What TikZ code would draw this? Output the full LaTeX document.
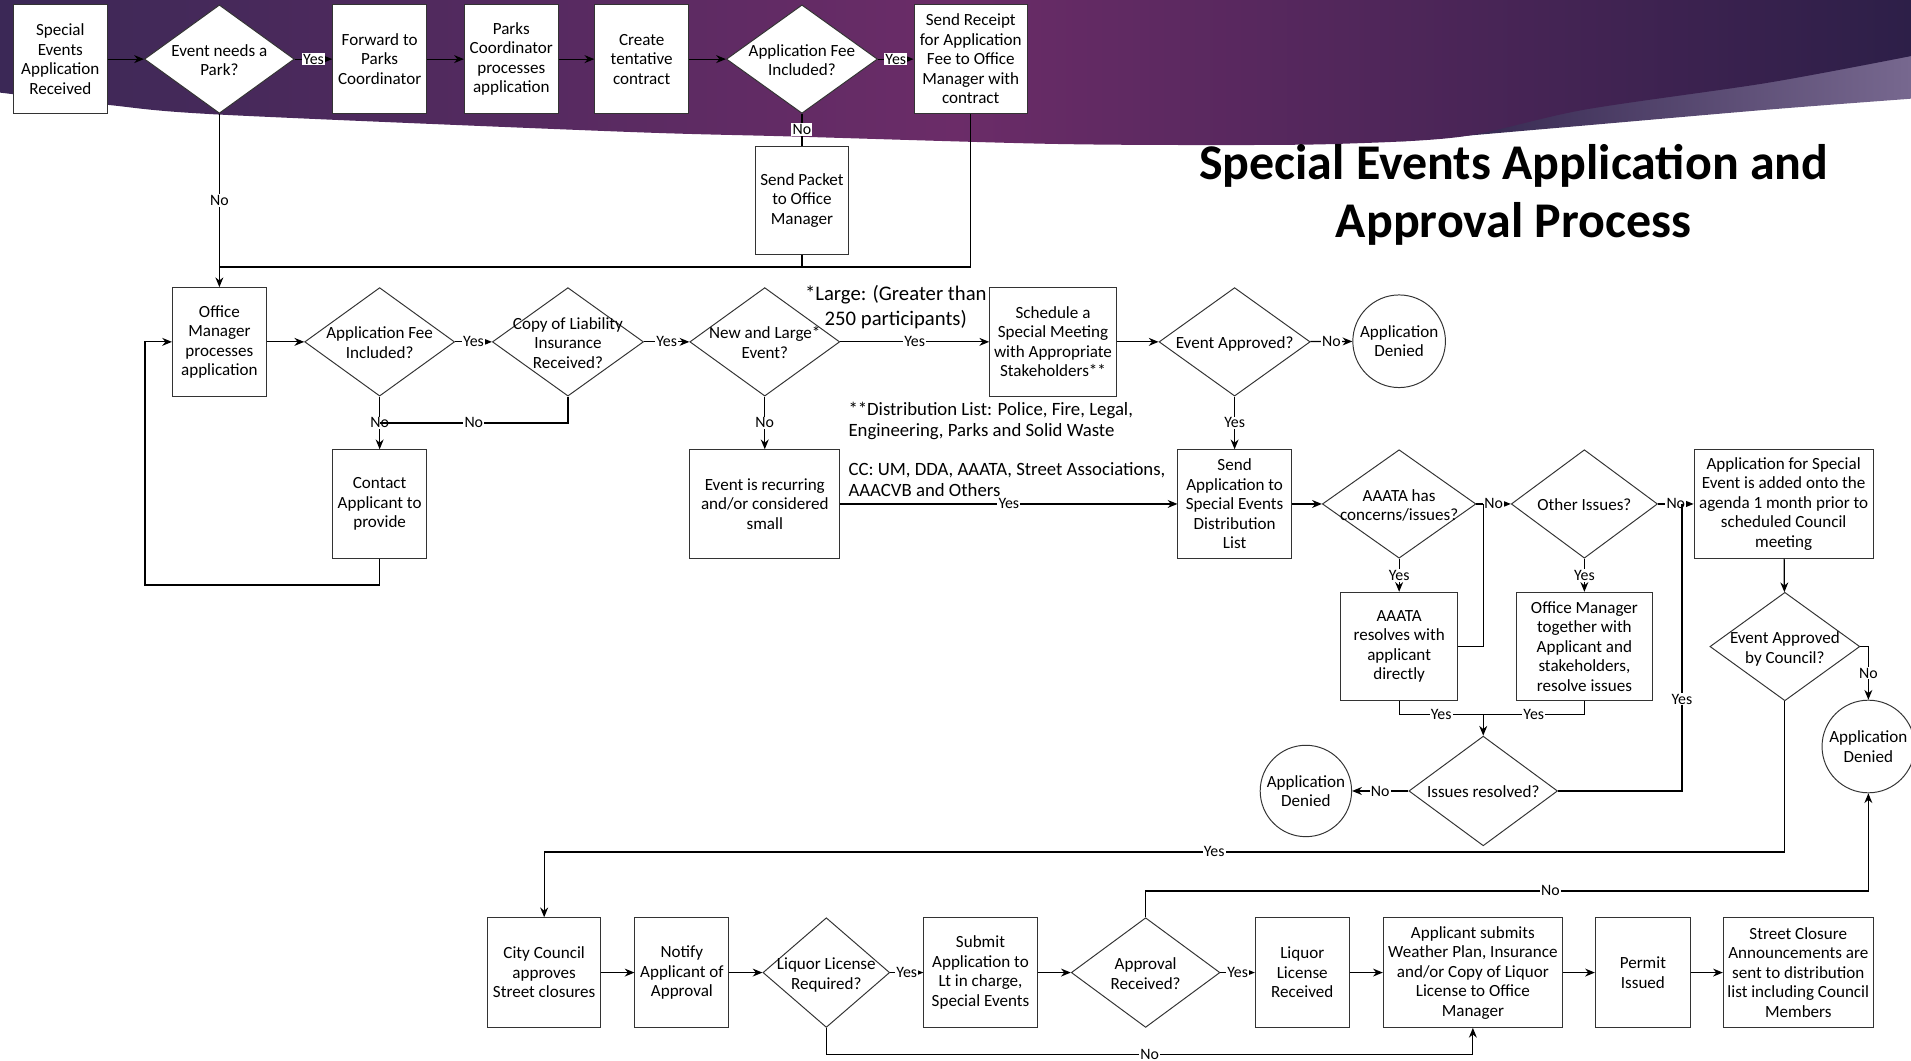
\documentclass[tikz,border=0pt]{standalone}
\usepackage{fontspec}
\setmainfont{Carlito}
\usetikzlibrary{arrows.meta,shapes.geometric}
\definecolor{plumdark}{HTML}{3B2856}
\definecolor{plummid}{HTML}{6B2C68}
\definecolor{plumnight}{HTML}{2D1F48}
\definecolor{plumhaze}{HTML}{77688F}
\newcommand{\qtext}[1]{\smash{\makebox[0pt]{\raisebox{-6pt}{\begin{tabular}{@{}c@{}}#1\end{tabular}}}}}
\tikzset{
  stepbox/.style={draw=black!80, line width=0.8pt, rectangle, minimum width=77pt, minimum height=89pt, inner sep=1pt, align=center, fill=white, font=\fontsize{14}{16}\selectfont},
  choice/.style={draw=black!80, line width=0.8pt, diamond, minimum width=123pt, minimum height=89pt, inner sep=0pt, fill=white, font=\fontsize{14}{16}\selectfont},
  denied/.style={draw=black!80, line width=0.8pt, circle, minimum size=76pt, inner sep=0pt, align=center, fill=white, font=\fontsize{14}{16}\selectfont},
  signal/.style={-{Stealth[length=8pt,width=6.5pt]}, line width=1pt, draw=black},
  link/.style={line width=1pt, draw=black},
  answer/.style={fill=white, inner sep=1pt, font=\fontsize{13}{15}\selectfont},
  remark/.style={align=left, anchor=west, inner sep=0pt, font=\fontsize{15.4}{17}\selectfont}
}

\begin{document}
\begin{tikzpicture}[x=1pt, y=-1pt]
  \useasboundingbox (0,0) rectangle (1568,870);
  % banner
  \shade[left color=plumnight, right color=plumhaze] plot[smooth] coordinates {(1150,116) (1300,86) (1450,62) (1568,38)} -- (1568,81) -- plot[smooth] coordinates {(1568,81) (1450,90) (1300,103) (1150,116)} -- cycle;
  \shade[left color=plumdark, right color=plumnight, middle color=plummid] (0,0) -- (1568,0) -- plot[smooth, tension=0.5] coordinates {(1568,46) (1450,68) (1300,90) (1200,112) (1100,118) (1000,119) (860,118) (650,112) (509,108) (180,94) (88,86) (0,76)} -- cycle;

  \node[font=\fontsize{41}{48}\selectfont\bfseries, align=center] (title) at (1242,160) {Special Events Application and\\Approval Process};

  % top row
  \node[stepbox] (rec) at (49.5,48.5) {Special\\Events\\Application\\Received};
  \node[choice] (park) at (180,48.5) {\qtext{Event needs a\\Park?}};
  \node[stepbox] (fwd) at (311.5,48.5) {Forward to\\Parks\\Coordinator};
  \node[stepbox] (pcp) at (419.5,48.5) {Parks\\Coordinator\\processes\\application};
  \node[stepbox] (tent) at (526.5,48.5) {Create\\tentative\\contract};
  \node[choice, minimum width=124pt] (fee1) at (658,48.5) {\qtext{Application Fee\\Included?}};
  \node[stepbox, minimum width=93pt] (receipt) at (796.5,48.5) {Send Receipt\\for Application\\Fee to Office\\Manager with\\contract};
  \node[stepbox] (packet) at (658,164.5) {Send Packet\\to Office\\Manager};

  % second row
  \node[stepbox] (om) at (180,280.5) {Office\\Manager\\processes\\application};
  \node[choice] (fee2) at (311.5,280.5) {\qtext{Application Fee\\Included?}};
  \node[choice, minimum width=124pt] (ins) at (466,280.5) {\qtext{Copy of Liability\\Insurance\\Received?}};
  \node[choice] (large) at (627.5,280.5) {\qtext{New and Large*\\Event?}};
  \node[stepbox, minimum width=104pt] (sched) at (864,280.5) {Schedule a\\Special Meeting\\with Appropriate\\Stakeholders**};
  \node[choice, minimum width=124pt] (appr) at (1013,280.5) {\qtext{Event Approved?}};
  \node[denied] (den1) at (1148,280) {Application\\Denied};
  \node[font=\fontsize{17}{20}\selectfont, align=center, inner sep=0pt] (largenote) at (735,252) {*Large: (Greater than\\250 participants)};
  \node[remark] (distnote) at (696,345.5) {**Distribution List: Police, Fire, Legal,\\Engineering, Parks and Solid Waste};
  \node[remark] (ccnote) at (696,393.5) {CC: UM, DDA, AAATA, Street Associations,\\AAACVB and Others};

  % third row
  \node[stepbox] (contact) at (311.5,413.5) {Contact\\Applicant to\\provide};
  \node[stepbox, minimum width=123pt] (small) at (627.5,413.5) {Event is recurring\\and/or considered\\small};
  \node[stepbox, minimum width=93pt] (dist) at (1013,413.5) {Send\\Application to\\Special Events\\Distribution\\List};
  \node[choice, minimum width=126pt] (aaata) at (1148,413.5) {\qtext{AAATA has\\concerns/issues?}};
  \node[choice, minimum width=120pt] (other) at (1300,413.5) {\qtext{Other Issues?}};
  \node[stepbox, minimum width=147pt] (agenda) at (1463.5,413.5) {Application for Special\\Event is added onto the\\agenda 1 month prior to\\scheduled Council\\meeting};
  \node[stepbox, minimum width=96pt] (aares) at (1148,530.5) {AAATA\\resolves with\\applicant\\directly};
  \node[stepbox, minimum width=112pt] (omres) at (1300,530.5) {Office Manager\\together with\\Applicant and\\stakeholders,\\resolve issues};
  \node[choice] (council) at (1464.5,530.5) {\qtext{Event Approved\\by Council?}};
  \node[choice, minimum width=122pt, minimum height=90pt] (resolved) at (1217,649) {\qtext{Issues resolved?}};
  \node[denied, minimum size=75pt] (den2) at (1071.5,649) {Application\\Denied};
  \node[denied] (den3) at (1533,612.5) {Application\\Denied};

  % bottom row
  \node[stepbox, minimum width=93pt, minimum height=90pt] (city) at (446.5,798) {City Council\\approves\\Street closures};
  \node[stepbox, minimum height=90pt] (notify) at (559.5,798) {Notify\\Applicant of\\Approval};
  \node[choice, minimum width=104pt, minimum height=90pt] (liquor) at (678,798) {\qtext{Liquor License\\Required?}};
  \node[stepbox, minimum width=93pt, minimum height=90pt] (submit) at (804.5,798) {Submit\\Application to\\Lt in charge,\\Special Events};
  \node[choice, minimum width=122pt, minimum height=90pt] (appr2) at (940,798) {\qtext{Approval\\Received?}};
  \node[stepbox, minimum height=90pt] (lrec) at (1068.5,798) {Liquor\\License\\Received};
  \node[stepbox, minimum width=147pt, minimum height=90pt] (subm) at (1208.5,798) {Applicant submits\\Weather Plan, Insurance\\and/or Copy of Liquor\\License to Office\\Manager};
  \node[stepbox, minimum width=78pt, minimum height=90pt] (permit) at (1348,798) {Permit\\Issued};
  \node[stepbox, minimum width=123pt, minimum height=90pt] (street) at (1475.5,798) {Street Closure\\Announcements are\\sent to distribution\\list including Council\\Members};

  \coordinate (omin) at (180,219);
  \coordinate (feeno) at (311.5,347);
  \coordinate (loop) at (119,480);
  \coordinate (merge) at (1217,586);
  \coordinate (recheck) at (1380,413.5);
  \coordinate (yesback) at (446.5,699);
  \coordinate (noback) at (1533,731);
  \coordinate (nolicense) at (1208.5,865);

  % top connectors
  \draw[signal] (rec) -- (park);
  \draw[signal] (park) -- node[answer] {Yes} (fwd);
  \draw[signal] (fwd) -- (pcp);
  \draw[signal] (pcp) -- (tent);
  \draw[signal] (tent) -- (fee1);
  \draw[signal] (fee1) -- node[answer] {Yes} (receipt);
  \draw[link] (fee1) -- node[answer] {No} (packet);
  \draw[signal] (park) -- node[answer] {No} (om);
  \draw[link] (receipt) |- (omin);
  \draw[link] (packet) -- (packet |- omin);

  % office manager loop
  \draw[signal] (om) -- (fee2);
  \draw[signal] (fee2) -- node[answer] {Yes} (ins);
  \draw[signal] (ins) -- node[answer] {Yes} (large);
  \draw[signal] (large) -- node[answer] {Yes} (sched);
  \draw[signal] (sched) -- (appr);
  \draw[signal] (appr) -- node[answer] {No} (den1);
  \draw[signal] (fee2) -- node[answer] {No} (contact);
  \draw[link] (ins) |- node[answer, pos=0.75] {No} (feeno);
  \draw[signal] (contact) |- (loop) |- (om);

  % distribution
  \draw[signal] (large) -- node[answer] {No} (small);
  \draw[signal] (small) -- node[answer] {Yes} (dist);
  \draw[signal] (appr) -- node[answer] {Yes} (dist);
  \draw[signal] (dist) -- (aaata);
  \draw[signal] (aaata) -- node[answer] {No} (other);
  \draw[signal] (other) -- node[answer] {No} (agenda);
  \draw[signal] (aaata) -- node[answer] {Yes} (aares);
  \draw[signal] (other) -- node[answer] {Yes} (omres);
  \draw[link] (aares) -| (resolved.north |- aaata.east);
  \draw[link] (aares) |- node[answer, pos=0.75] {Yes} (merge);
  \draw[link] (omres) |- node[answer, pos=0.75] {Yes} (merge);
  \draw[signal] (merge) -- (resolved);
  \draw[signal] (resolved) -- node[answer] {No} (den2);
  \draw[link] (resolved) -| node[answer, pos=0.66] {Yes} (recheck);

  % council
  \draw[signal] (agenda) -- (council);
  \draw[signal] (council) -| node[answer, pos=0.75] {No} (den3);
  \draw[signal] (council) |- node[answer, pos=0.73] {Yes} (yesback) -- (city);

  % bottom connectors
  \draw[signal] (city) -- (notify);
  \draw[signal] (notify) -- (liquor);
  \draw[signal] (liquor) -- node[answer] {Yes} (submit);
  \draw[signal] (submit) -- (appr2);
  \draw[signal] (appr2) -- node[answer] {Yes} (lrec);
  \draw[signal] (lrec) -- (subm);
  \draw[signal] (subm) -- (permit);
  \draw[signal] (permit) -- (street);
  \draw[signal] (appr2) |- node[answer, pos=0.78] {No} (noback) -- (den3);
  \draw[signal] (liquor) |- node[answer, pos=0.75] {No} (nolicense) -- (subm);
\end{tikzpicture}
\end{document}
